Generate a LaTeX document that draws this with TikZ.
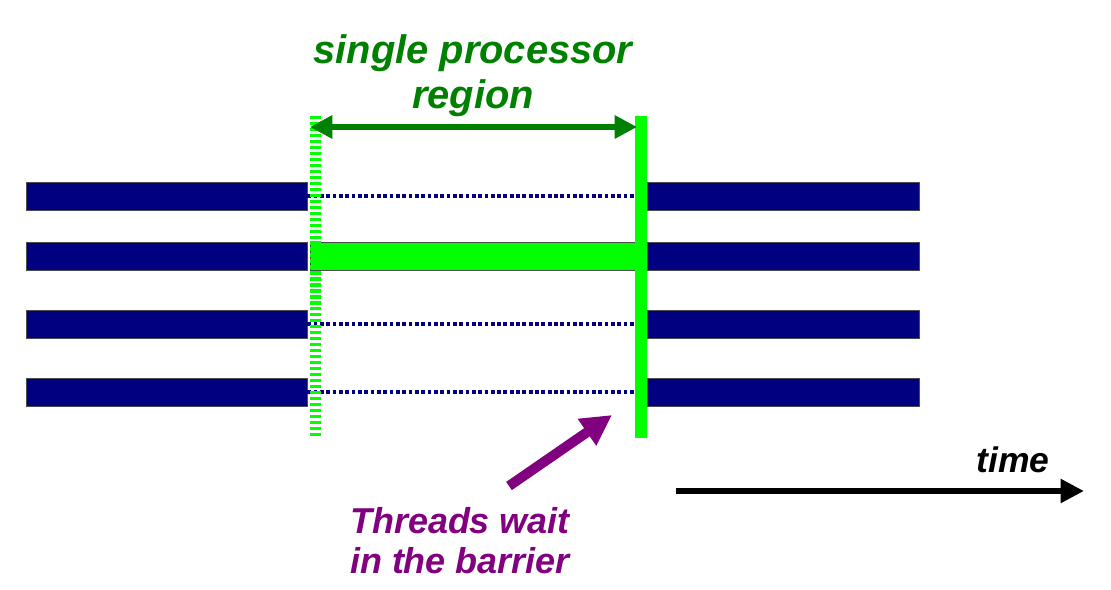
\documentclass[tikz,border=0pt]{standalone}
\usepackage{fontspec}
\setmainfont{Liberation Sans}
\usetikzlibrary{arrows.meta}
\definecolor{barblue}{RGB}{0,0,128}
\definecolor{litegreen}{RGB}{0,255,0}
\definecolor{darkgreen}{RGB}{0,128,0}
\definecolor{waitpurple}{RGB}{128,0,128}
\begin{document}
\begin{tikzpicture}[x=0.03cm,y=-0.03cm,
	thread/.style={draw=black!70,fill=barblue,line width=0.6pt,inner sep=0pt,minimum height=0.84cm},
	idle/.style={barblue,line width=3.6pt,dash pattern=on 3.2pt off 2.2pt},
	label/.style={font=\bfseries\itshape,align=center}]
	\useasboundingbox (0,0) rectangle (1111,590);

	\foreach \y [count=\i] in {196,256,324,392}
	    {
		  \node[thread,minimum width=8.43cm] (l\i) at (166.5,\y) {};
		  \node[thread,minimum width=8.16cm] (r\i) at (783,\y) {};
	    }
	\foreach \i in {1,3,4}
	      {
		  \draw[idle] (l\i.east) -- (r\i.west);
	      }
	\node[draw=black!70,fill=litegreen,line width=0.6pt,inner sep=0pt,
	      minimum width=9.9cm,minimum height=0.84cm] (work) at (475,256) {};

	\coordinate (s1) at (315.5,116);
	\coordinate (s2) at (315.5,437);
	\coordinate (b1) at (641,116);
	\coordinate (b2) at (641,438);
	\draw[litegreen,line width=10pt,dash pattern=on 2.8pt off 2.3pt] (s1) -- (s2);
	\draw[litegreen,line width=9.5pt] (b1) -- (b2);

	\coordinate (a1) at (310,127);
	\coordinate (a2) at (637,127);
	\draw[{Triangle[length=19pt,width=19pt]}-{Triangle[length=19pt,width=19pt]},
	      darkgreen,line width=4.3pt] (a1) -- (a2);
	\node[label,darkgreen,font=\fontsize{34}{38.5}\selectfont\bfseries\itshape] (title) at (473,76)
	      {single processor\\region};

	% arrow pointing at the barrier
	\node[label,waitpurple,font=\fontsize{30.7}{34.2}\selectfont\bfseries\itshape] (wait) at (460,541)
	      {Threads wait\\in the barrier};
	\coordinate (p1) at (509,486);
	\coordinate (p2) at (612,415);
	\draw[-{Triangle[length=26pt,width=26pt]},waitpurple,line width=8.5pt] (p1) -- (p2);

	\coordinate (t1) at (676,491);
	\coordinate (t2) at (1084,491);
	\draw[-{Triangle[length=20pt,width=19.5pt]},black,line width=5pt] (t1) -- (t2);
	\node[label,font=\fontsize{30.3}{34}\selectfont\bfseries\itshape] (time) at (1013,460) {time};
\end{tikzpicture}
\end{document}
